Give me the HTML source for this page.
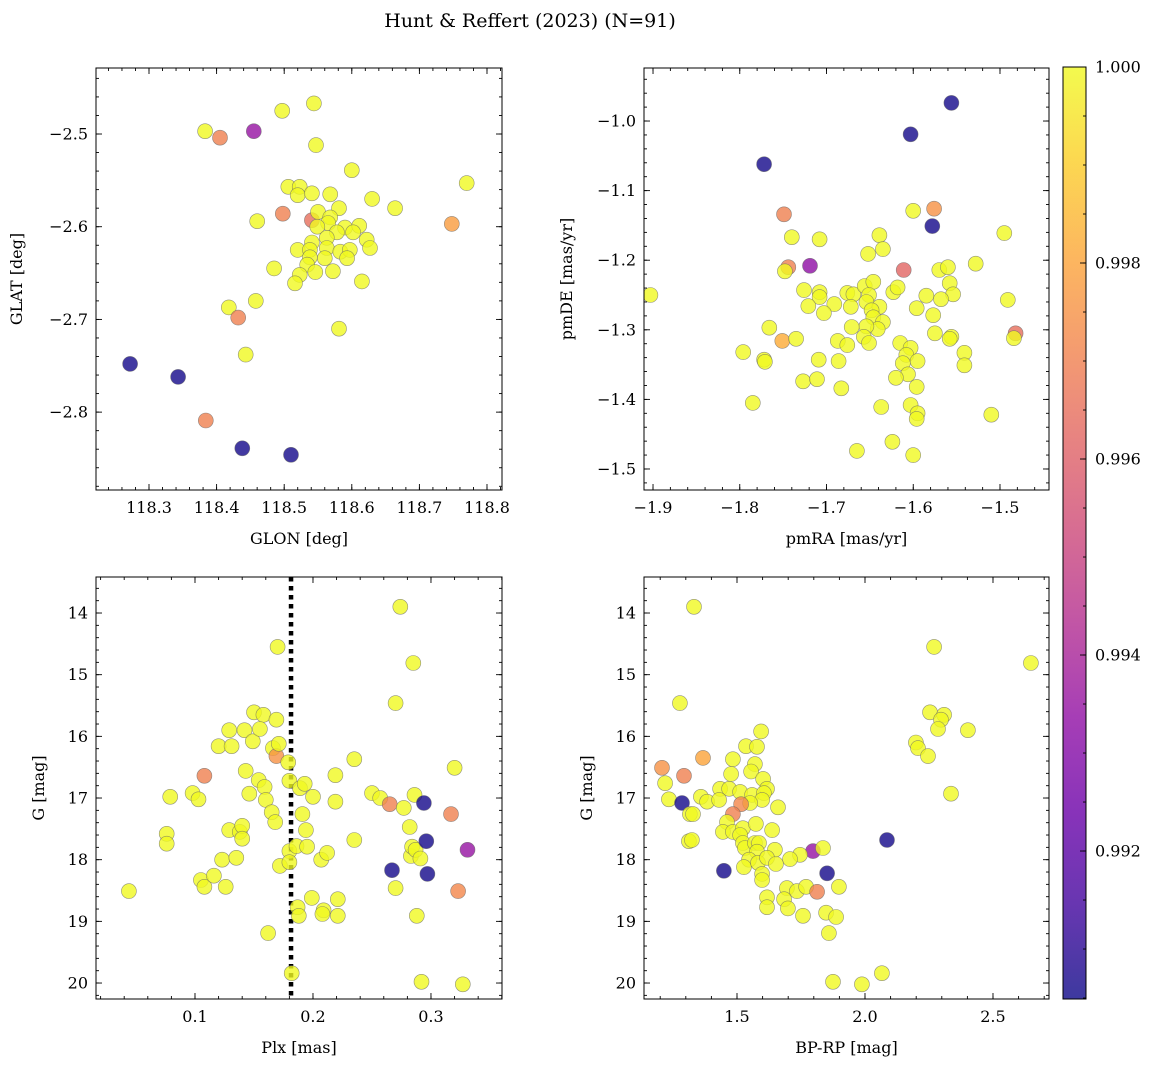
<!DOCTYPE html>
<html><head><meta charset="utf-8"><style>
html,body{margin:0;padding:0;background:#fff}
svg{display:block;font-family:"DejaVu Serif","Liberation Serif",serif}
</style></head><body>
<svg id="c" width="1161" height="1067" viewBox="0 0 1161 1067" xmlns="http://www.w3.org/2000/svg">
<text x="530" y="27" text-anchor="middle" font-size="19">Hunt &amp; Reffert (2023) (N=91)</text>
</svg>
<script>
// Panel 1: GLON vs GLAT
const p1Glon=[118.383,118.405,118.455,118.497,118.544,118.547,118.770,118.600,118.506,118.523,118.520,118.541,118.568,118.630,118.664,118.498,118.541,118.550,118.581,118.568,118.565,118.590,118.611,118.602,118.549,118.578,118.563,118.622,118.627,118.520,118.541,118.538,118.563,118.583,118.597,118.538,118.560,118.593,118.534,118.546,118.572,118.523,118.516,118.615,118.485,118.460,118.748,118.418,118.458,118.432,118.581,118.443,118.272,118.343,118.384,118.438,118.510];
const p1Glat=[-2.497,-2.504,-2.497,-2.475,-2.467,-2.512,-2.553,-2.539,-2.557,-2.557,-2.566,-2.564,-2.565,-2.570,-2.580,-2.586,-2.593,-2.584,-2.580,-2.590,-2.596,-2.601,-2.599,-2.606,-2.600,-2.606,-2.612,-2.614,-2.623,-2.625,-2.617,-2.625,-2.623,-2.627,-2.625,-2.633,-2.634,-2.634,-2.641,-2.649,-2.648,-2.652,-2.661,-2.659,-2.645,-2.594,-2.597,-2.687,-2.680,-2.698,-2.710,-2.738,-2.748,-2.762,-2.809,-2.839,-2.846];
const p1Prob=[1,0.997,0.9935,1,1,1,1,1,1,1,1,1,1,1,1,0.997,0.9965,1,1,1,1,1,1,1,1,1,1,1,1,1,1,1,1,1,1,1,1,1,1,1,1,1,1,1,1,1,0.9978,1,1,0.997,1,1,0.9906,0.9906,0.997,0.9906,0.9906];
// Panel 2: pmRA vs pmDE
const p2Pmra=[-1.556,-1.603,-1.772,-1.576,-1.749,-1.600,-1.578,-1.495,-1.903,-1.740,-1.708,-1.639,-1.635,-1.652,-1.719,-1.744,-1.748,-1.611,-1.570,-1.560,-1.528,-1.558,-1.554,-1.568,-1.585,-1.596,-1.577,-1.726,-1.708,-1.708,-1.691,-1.721,-1.703,-1.676,-1.669,-1.656,-1.646,-1.651,-1.654,-1.639,-1.648,-1.672,-1.646,-1.635,-1.641,-1.654,-1.671,-1.623,-1.618,-1.766,-1.751,-1.735,-1.687,-1.676,-1.657,-1.651,-1.615,-1.603,-1.608,-1.595,-1.612,-1.606,-1.620,-1.596,-1.575,-1.556,-1.558,-1.541,-1.541,-1.796,-1.772,-1.771,-1.709,-1.686,-1.727,-1.711,-1.683,-1.785,-1.637,-1.603,-1.595,-1.491,-1.482,-1.484,-1.510,-1.596,-1.624,-1.600,-1.665];
const p2Pmde=[-0.974,-1.019,-1.062,-1.126,-1.134,-1.129,-1.151,-1.161,-1.250,-1.167,-1.170,-1.164,-1.184,-1.191,-1.208,-1.210,-1.216,-1.214,-1.214,-1.210,-1.205,-1.233,-1.249,-1.256,-1.251,-1.269,-1.279,-1.243,-1.246,-1.253,-1.263,-1.266,-1.276,-1.247,-1.249,-1.237,-1.231,-1.250,-1.260,-1.267,-1.272,-1.267,-1.282,-1.289,-1.299,-1.295,-1.296,-1.246,-1.239,-1.297,-1.316,-1.313,-1.316,-1.322,-1.310,-1.319,-1.319,-1.326,-1.336,-1.345,-1.348,-1.364,-1.369,-1.382,-1.305,-1.310,-1.313,-1.333,-1.351,-1.332,-1.343,-1.346,-1.343,-1.345,-1.374,-1.371,-1.384,-1.405,-1.411,-1.408,-1.420,-1.257,-1.305,-1.312,-1.422,-1.428,-1.461,-1.480,-1.474];
const p2Prob=[0.9906,0.9906,0.9906,0.9975,0.997,1,0.9906,1,1,1,1,1,1,1,0.9933,0.997,1,0.9962,1,1,1,1,1,1,1,1,1,1,1,1,1,1,1,1,1,1,1,1,1,1,1,1,1,1,1,1,1,1,1,1,0.9982,1,1,1,1,1,1,1,1,1,1,1,1,1,1,1,1,1,1,1,1,1,1,1,1,1,1,1,1,1,1,1,0.9965,1,1,1,1,1,1];
// Panel 3: Plx vs G
const p3Plx=[0.044,0.076,0.076,0.079,0.098,0.103,0.108,0.105,0.108,0.116,0.120,0.123,0.126,0.129,0.131,0.129,0.135,0.138,0.140,0.140,0.142,0.143,0.146,0.149,0.150,0.154,0.158,0.155,0.159,0.160,0.162,0.165,0.166,0.169,0.168,0.170,0.169,0.171,0.172,0.179,0.180,0.180,0.180,0.182,0.186,0.189,0.191,0.187,0.188,0.193,0.194,0.195,0.200,0.199,0.207,0.209,0.212,0.208,0.219,0.219,0.221,0.221,0.235,0.235,0.250,0.257,0.265,0.267,0.270,0.270,0.274,0.277,0.282,0.285,0.283,0.284,0.287,0.286,0.288,0.291,0.294,0.296,0.297,0.292,0.320,0.317,0.323,0.331,0.327];
const p3G=[18.51,17.58,17.74,16.98,16.92,17.02,16.64,18.33,18.44,18.26,16.16,18.00,18.44,15.90,16.16,17.52,17.97,17.55,17.45,17.66,15.90,16.56,16.93,16.08,15.61,16.71,15.65,15.88,16.82,17.03,19.19,17.23,16.19,15.73,17.39,14.55,16.32,16.12,18.10,16.42,16.72,17.86,18.04,19.84,17.78,16.84,17.26,18.77,18.91,16.77,17.52,17.79,16.98,18.62,18.00,18.82,17.89,18.88,16.63,17.06,18.64,18.91,17.68,16.37,16.92,17.00,17.10,18.17,18.46,15.46,13.90,17.16,17.47,14.81,17.94,17.79,17.84,16.95,18.91,17.98,17.08,17.70,18.23,19.98,16.51,17.26,18.51,17.84,20.02];
const p3Prob=[1,1,1,1,1,1,0.997,1,1,1,1,1,1,1,1,1,1,1,1,1,1,1,1,1,1,1,1,1,1,1,1,1,1,1,1,1,0.9975,1,1,1,1,1,1,1,1,1,1,1,1,1,1,1,1,1,1,1,1,1,1,1,1,1,1,1,1,1,0.997,0.9906,1,1,1,1,1,1,1,1,1,1,1,1,0.9906,0.9906,0.9906,1,1,0.997,0.9972,0.9935,1];
const plxCut=0.1814;
// Panel 4: BP-RP vs G
const p4Bprp=[1.332,1.277,1.367,1.207,1.219,1.234,1.293,1.285,1.316,1.312,2.270,2.648,2.254,2.309,2.297,2.285,2.402,2.199,2.207,2.246,2.336,2.086,1.594,1.535,1.578,1.484,1.570,1.555,1.477,1.602,1.617,1.434,1.469,1.512,1.359,1.383,1.430,1.559,1.605,1.598,1.551,1.516,1.660,1.484,1.328,1.461,1.445,1.484,1.523,1.574,1.637,1.512,1.523,1.531,1.570,1.586,1.578,1.648,1.324,1.797,1.836,1.746,1.707,1.547,1.527,1.582,1.617,1.652,1.449,1.852,1.598,1.598,1.898,1.695,1.734,1.770,1.813,1.617,1.684,1.617,1.699,1.758,1.848,1.887,1.859,1.875,1.988,2.066];
const p4G=[13.90,15.46,16.35,16.51,16.76,17.02,16.64,17.08,17.26,17.70,14.55,14.81,15.61,15.65,15.73,15.88,15.90,16.10,16.19,16.32,16.93,17.68,15.92,16.16,16.17,16.37,16.45,16.57,16.61,16.69,16.85,16.85,16.85,16.90,16.98,17.06,17.03,16.95,16.92,17.03,17.08,17.10,17.15,17.26,17.26,17.39,17.55,17.55,17.49,17.42,17.52,17.60,17.73,17.81,17.73,17.73,17.87,17.84,17.68,17.86,17.81,17.92,17.99,18.00,18.12,18.05,17.97,18.07,18.18,18.22,18.23,18.33,18.44,18.46,18.51,18.44,18.52,18.61,18.64,18.77,18.79,18.91,18.86,18.93,19.19,19.98,20.02,19.84];
const p4Prob=[1,1,0.998,0.9975,1,1,0.997,0.9906,1,1,1,1,1,1,1,1,1,1,1,1,1,0.9906,1,1,1,1,1,1,1,1,1,1,1,1,1,1,1,1,1,1,1,0.9972,1,0.997,1,1,1,1,1,1,1,1,1,1,1,1,1,1,1,0.9935,1,1,1,1,1,1,1,1,0.9906,0.9906,1,1,1,1,1,1,0.997,1,1,1,1,1,1,1,1,1,1,1];
// Ticks
const p1XTicks=[118.3,118.4,118.5,118.6,118.7,118.8];
const p1YTicks=[-2.8,-2.7,-2.6,-2.5];
const p2XTicks=[-1.9,-1.8,-1.7,-1.6,-1.5];
const p2YTicks=[-1.5,-1.4,-1.3,-1.2,-1.1,-1.0];
const p3XTicks=[0.1,0.2,0.3];
const gTicks=[14,15,16,17,18,19,20];
const p4XTicks=[1.5,2.0,2.5];
const cbTicks=[0.992,0.994,0.996,0.998,1.000];
const VMIN=0.99049, VMAX=1.0;

const NS='http://www.w3.org/2000/svg';
const svg=document.getElementById('c');
function mk(tag,attrs,parent){const e=document.createElementNS(NS,tag);for(const k in attrs)e.setAttribute(k,attrs[k]);(parent||svg).appendChild(e);return e;}
const stops=[[13,8,135],[65,4,157],[106,0,168],[143,13,164],[177,42,144],[204,71,120],[225,100,98],[242,132,75],[252,166,54],[252,206,37],[240,249,33]];
function plasma(t){t=Math.max(0,Math.min(1,t));const f=t*10,i=Math.min(9,Math.floor(f)),u=f-i;const a=stops[i],b=stops[i+1];return 'rgb('+a.map((v,k)=>Math.round(v+(b[k]-v)*u)).join(',')+')';}
function fmt(v,d){return (v<0?'\u2212':'')+Math.abs(v).toFixed(d);}

function panel(o){
  const g=mk('g',{});
  
  
  const X=v=>o.x0+(v-o.xmin)/(o.xmax-o.xmin)*(o.x1-o.x0);
  const Y=o.yinv?(v=>o.y0+(v-o.ymin)/(o.ymax-o.ymin)*(o.y1-o.y0)):(v=>o.y1-(v-o.ymin)/(o.ymax-o.ymin)*(o.y1-o.y0));
  const clip=mk('clipPath',{id:o.name+'-clip'},g);
  mk('rect',{x:o.x0,y:o.y0,width:o.x1-o.x0,height:o.y1-o.y0},clip);
  const pts=mk('g',{'clip-path':'url(#'+o.name+'-clip)'},g);
  if(o.vline!==undefined){const l=mk('line',{x1:X(o.vline),x2:X(o.vline),y1:o.y0,y2:o.y1,stroke:'#000','stroke-width':4.5,'stroke-dasharray':'4.5,4.5'},pts);
    
    }
  for(let i=0;i<o.xs.length;i++){
    const c=mk('circle',{cx:X(o.xs[i]).toFixed(1),cy:Y(o.ys[i]).toFixed(1),r:7.5,fill:plasma((o.cs[i]-VMIN)/(VMAX-VMIN)),'fill-opacity':0.8,stroke:'#666','stroke-opacity':0.7,'stroke-width':0.6},pts);
    
    
  }
  const fr=mk('rect',{x:o.x0,y:o.y0,width:o.x1-o.x0,height:o.y1-o.y0,fill:'none',stroke:'#000','stroke-width':1},g);
  
  
  const tk=(x1,y1,x2,y2)=>mk('line',{x1,y1,x2,y2,stroke:'#000','stroke-width':0.9},g);
  const xr=[Math.min(o.xmin,o.xmax),Math.max(o.xmin,o.xmax)], yr=[Math.min(o.ymin,o.ymax),Math.max(o.ymin,o.ymax)];
  for(let v=Math.ceil(xr[0]/o.xminor-1e-9)*o.xminor;v<=xr[1]+1e-9;v+=o.xminor){const x=X(v);tk(x,o.y1,x,o.y1-3);tk(x,o.y0,x,o.y0+3);}
  for(let v=Math.ceil(yr[0]/o.yminor-1e-9)*o.yminor;v<=yr[1]+1e-9;v+=o.yminor){const y=Y(v);tk(o.x0,y,o.x0+3,y);tk(o.x1,y,o.x1-3,y);}
  o.xt.forEach(v=>{const x=X(v);tk(x,o.y1,x,o.y1-6);tk(x,o.y0,x,o.y0+6);
    const t=mk('text',{x:x,y:o.y1+23,'text-anchor':'middle','font-size':16},g);t.textContent=fmt(v,o.xd);
    
    });
  o.yt.forEach(v=>{const y=Y(v);tk(o.x0,y,o.x0+6,y);tk(o.x1,y,o.x1-6,y);
    const t=mk('text',{x:o.x0-8,y:y+5.5,'text-anchor':'end','font-size':16},g);t.textContent=fmt(v,o.yd);
    
    });
  const xl=mk('text',{x:(o.x0+o.x1)/2,y:o.y1+54,'text-anchor':'middle','font-size':16},g);xl.textContent=o.xlabel;
  
  
  const yl=mk('text',{x:0,y:0,'text-anchor':'middle','font-size':16,transform:'translate('+o.ylx+','+((o.y0+o.y1)/2)+') rotate(-90)'},g);yl.textContent=o.ylabel;
  
  
}
panel({name:'glon-glat-panel',x0:96,x1:502,y0:68,y1:490,xmin:118.2216,xmax:118.8222,ymin:-2.884,ymax:-2.4288,xs:p1Glon,ys:p1Glat,cs:p1Prob,xt:p1XTicks,yt:p1YTicks,xd:1,yd:1,xminor:0.02,yminor:0.02,xlabel:'GLON [deg]',ylabel:'GLAT [deg]',ylx:22});
panel({name:'pm-panel',x0:644,x1:1049,y0:68,y1:490,xmin:-1.9104,xmax:-1.4435,ymin:-1.5302,ymax:-0.9238,xs:p2Pmra,ys:p2Pmde,cs:p2Prob,xt:p2XTicks,yt:p2YTicks,xd:1,yd:1,xminor:0.02,yminor:0.02,xlabel:'pmRA [mas/yr]',ylabel:'pmDE [mas/yr]',ylx:572});
panel({name:'plx-g-panel',x0:96,x1:502,y0:577,y1:999,xmin:0.0161,xmax:0.3602,ymin:13.416,ymax:20.259,yinv:true,xs:p3Plx,ys:p3G,cs:p3Prob,xt:p3XTicks,yt:gTicks,xd:1,yd:0,xminor:0.02,yminor:0.2,xlabel:'Plx [mas]',ylabel:'G [mag]',ylx:44,vline:plxCut});
panel({name:'cmd-panel',x0:644,x1:1049,y0:577,y1:999,xmin:1.1367,xmax:2.7188,ymin:13.416,ymax:20.259,yinv:true,xs:p4Bprp,ys:p4G,cs:p4Prob,xt:p4XTicks,yt:gTicks,xd:1,yd:0,xminor:0.1,yminor:0.2,xlabel:'BP-RP [mag]',ylabel:'G [mag]',ylx:592});

const cb=mk('g',{});


const defs=mk('defs',{},cb);
const lg=mk('linearGradient',{id:'pl',x1:0,y1:1,x2:0,y2:0},defs);
for(let i=0;i<=20;i++)mk('stop',{offset:i/20,'stop-color':plasma(i/20)},lg);
const cy0=67,cy1=999,cx0=1063,cx1=1086;
mk('rect',{x:cx0,y:cy0,width:cx1-cx0,height:cy1-cy0,fill:'url(#pl)','fill-opacity':0.8},cb);
mk('rect',{x:cx0,y:cy0,width:cx1-cx0,height:cy1-cy0,fill:'none',stroke:'#000','stroke-width':1},cb);
const CY=v=>cy1-(v-VMIN)/(VMAX-VMIN)*(cy1-cy0);
for(let v=0.9905;v<=1.00001;v+=0.0005){const y=CY(v);mk('line',{x1:cx1,x2:cx1-3,y1:y,y2:y,stroke:'#000','stroke-width':0.9},cb);}
cbTicks.forEach(v=>{const y=CY(v);mk('line',{x1:cx1,x2:cx1-6,y1:y,y2:y,stroke:'#000','stroke-width':0.9},cb);
  const t=mk('text',{x:cx1+9,y:y+5.5,'font-size':16},cb);t.textContent=v.toFixed(3);
  
  });
</script>
</body></html>
